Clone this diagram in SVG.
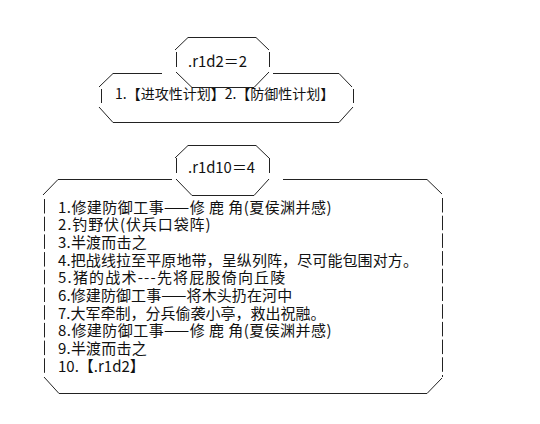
<svg xmlns="http://www.w3.org/2000/svg" width="540" height="424" viewBox="0 0 540 424">
<style>
.ln{fill:none;stroke:#222;stroke-width:1}
.bar{fill:none;stroke:#222;stroke-width:1;stroke-dasharray:14.5 3.2}
.t{font-family:"Noto Sans CJK SC","Noto Sans",sans-serif;font-size:15px;fill:#111}
</style>
<rect width="540" height="424" fill="#fff"/>
<g id="connectors"></g>
<g id="r1d2-header">
<path class="ln" d="M188,37.5H256M188,37.5L175,50M256,37.5L269,50M176.5,52V67M269.5,52V67M176,72L192,87.5M269,72L254,87.5M192,87.5H254"/>
<text class="t" x="188" y="67" textLength="59" lengthAdjust="spacingAndGlyphs">.r1d2＝2</text>
</g>
<g id="plans">
<path class="ln" d="M113,73.5H162M273,73.5H339M113,73.5L99,87M339,73.5L352,87M101.5,89V103M353.5,89V103M99,107L113,122.5M353,107L339,122.5M113,122.5H339"/>
<text class="t" x="115" y="98.5" style="font-size:14px">1.【进攻性计划】2.【防御性计划】</text>
</g>
<g id="r1d10-header">
<path class="ln" d="M188,145.5H256M188,145.5L175,158M256,145.5L269,158M176.5,158V173M269.5,158V173M176,179L192,195.5M269,179L254,195.5M192,195.5H254"/>
<text class="t" x="188" y="173" textLength="67" lengthAdjust="spacingAndGlyphs">.r1d10＝4</text>
</g>
<g id="tactics">
<path class="ln" d="M58,179.5H172M283,179.5H427M58,179.5L43,195M427,179.5L442,194M44,377L59,393.5M442,378L427,393.5M59,393.5H427"/>
<path class="bar" d="M44.5,199V376M442.5,198V377"/>
<text class="t"><tspan x="58" y="212.5" style="letter-spacing:0.45px">1.修建防御工事——修 鹿 角(夏侯渊并感)</tspan><tspan x="58" y="230.2" style="letter-spacing:0.9px">2.钓野伏(伏兵口袋阵)</tspan><tspan x="58" y="247.9" style="letter-spacing:0.2px">3.半渡而击之</tspan><tspan x="58" y="265.6" style="letter-spacing:0.1px">4.把战线拉至平原地带，呈纵列阵，尽可能包围对方。</tspan><tspan x="58" y="283.3" style="letter-spacing:1.2px">5.猪的战术---先将屁股倚向丘陵</tspan><tspan x="58" y="301" style="letter-spacing:0.1px">6.修建防御工事——将木头扔在河中</tspan><tspan x="58" y="318.7">7.大军牵制，分兵偷袭小亭，救出祝融。</tspan><tspan x="58" y="336.4" style="letter-spacing:0.45px">8.修建防御工事——修 鹿 角(夏侯渊并感)</tspan><tspan x="58" y="354.1" style="letter-spacing:0.2px">9.半渡而击之</tspan><tspan x="58" y="371.8">10.【.r1d2】</tspan></text>
</g>
</svg>
